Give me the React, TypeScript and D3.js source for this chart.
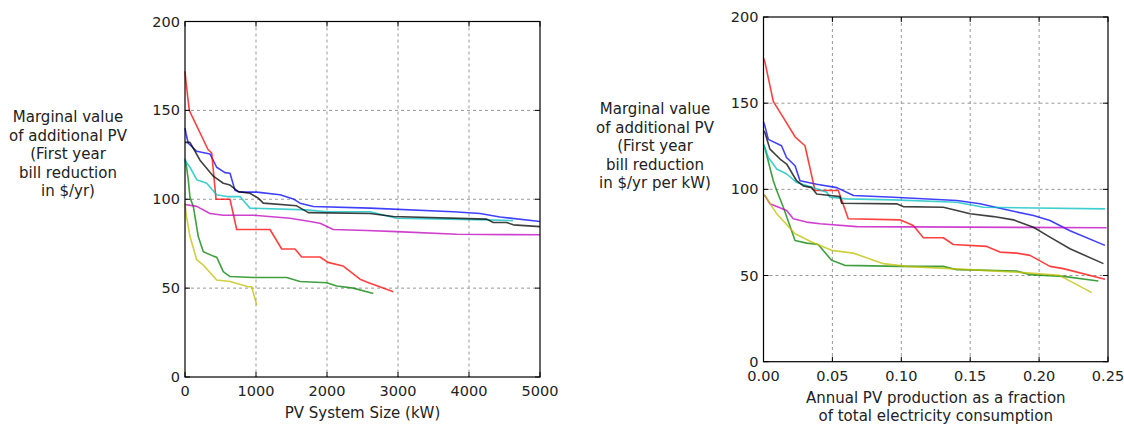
import React from "react";
import * as d3 from "d3";

type Pt = [number, number];

// ---------- Left chart data: PV system size (kW) vs marginal value ($/yr) ----------
const leftRed: Pt[] = [[0, 172], [14, 166], [60, 150], [324, 128], [376, 126], [437, 100], [634, 100], [728, 83], [1197, 83], [1362, 72], [1549, 72], [1644, 67.5], [1901, 67.5], [2014, 64.5], [2225, 62.5], [2465, 55], [2559, 53.5], [2934, 48]];
const leftBlue: Pt[] = [[0, 140], [14, 137], [46, 131.5], [165, 127], [352, 125.5], [446, 118], [563, 115], [634, 114.6], [704, 105], [775, 104], [1010, 104], [1338, 102.5], [1525, 100.2], [1620, 97.8], [1807, 95.9], [2606, 95], [3779, 93], [4155, 92], [4437, 90], [5000, 87.5]];
const leftBlack: Pt[] = [[0, 132], [70, 132], [141, 127], [211, 122], [399, 113], [539, 109], [634, 108], [751, 104.3], [915, 103.4], [1032, 100.6], [1103, 97.8], [1573, 96.3], [1737, 92.5], [2606, 92], [2934, 90.3], [4249, 88.8], [4342, 86.9], [4531, 86.9], [4624, 85.6], [5000, 84.6]];
const leftCyan: Pt[] = [[0, 123], [14, 121], [70, 118], [165, 111], [306, 109], [446, 102.5], [587, 101.5], [775, 101.5], [915, 95], [1714, 94], [1996, 93], [2606, 93], [2982, 89.3], [4249, 88.4], [4620, 88]];
const leftMagenta: Pt[] = [[0, 97], [165, 96], [352, 92], [540, 91], [962, 91], [1479, 89.3], [1761, 87.5], [1901, 86.5], [2089, 83], [2559, 82.4], [2982, 81.8], [3827, 80.3], [5000, 80]];
const leftGreen: Pt[] = [[0, 122], [14, 120.5], [46, 111], [70, 101], [117, 96], [187, 79], [258, 70.5], [399, 68], [446, 67.4], [539, 59.3], [634, 56.5], [962, 56], [1432, 56], [1620, 53.7], [1996, 53], [2137, 51.2], [2370, 50], [2652, 47]];
const leftYellow: Pt[] = [[0, 98], [14, 92], [70, 79], [165, 66], [258, 63], [446, 54.6], [634, 53.7], [892, 50.8], [939, 50.8], [1010, 40.5]];

// ---------- Right chart data: PV fraction of consumption vs marginal value ($/yr per kW) ----------
const rightRed: Pt[] = [[0, 176], [0.001, 174], [0.0071, 151], [0.0144, 141.6], [0.0229, 130.5], [0.0301, 125.3], [0.0374, 99.3], [0.0543, 99.3], [0.0615, 82.9], [0.099, 82.3], [0.1087, 79], [0.116, 71.9], [0.1305, 71.9], [0.1377, 68], [0.162, 66.9], [0.1716, 63.6], [0.1837, 63], [0.1934, 61.7], [0.2079, 55.3], [0.2176, 54], [0.2478, 47.8]];
const rightBlue: Pt[] = [[0, 139], [0.001, 136.8], [0.0035, 129], [0.0131, 125.3], [0.0167, 118.5], [0.0229, 113.7], [0.0265, 105], [0.0386, 103], [0.0532, 101], [0.0653, 96.4], [0.0943, 95.4], [0.1403, 93.5], [0.1571, 91.6], [0.1789, 87.7], [0.1959, 84.8], [0.2079, 81.9], [0.2224, 76], [0.2478, 67.5]];
const rightBlack: Pt[] = [[0, 134], [0.001, 133], [0.0047, 123.3], [0.012, 117.6], [0.0168, 114.7], [0.024, 105], [0.0289, 102], [0.0349, 101], [0.0386, 97.3], [0.0483, 96.4], [0.0555, 95.8], [0.0567, 91.9], [0.0966, 91.6], [0.1014, 90], [0.1305, 89.6], [0.1403, 87.7], [0.15, 85.8], [0.1669, 84.2], [0.1814, 82.3], [0.1959, 78], [0.2079, 72.3], [0.2224, 65.5], [0.2467, 56.9]];
const rightCyan: Pt[] = [[0, 126], [0.001, 124.3], [0.0035, 118.5], [0.0096, 111.8], [0.0168, 108.9], [0.024, 104], [0.0325, 102], [0.0459, 98.3], [0.0483, 95.4], [0.0603, 94.5], [0.0943, 93.9], [0.1403, 92.5], [0.1596, 89.6], [0.2478, 88.7]];
const rightMagenta: Pt[] = [[0, 97], [0.001, 96.4], [0.0047, 91.6], [0.0168, 87.7], [0.0216, 82.9], [0.0313, 81], [0.041, 80], [0.0676, 78.4], [0.249, 77.7]];
const rightGreen: Pt[] = [[0, 126], [0.001, 124], [0.0071, 105], [0.0096, 99.3], [0.0144, 89.6], [0.0229, 70.3], [0.0313, 68.8], [0.0397, 68], [0.0494, 58.8], [0.059, 55.9], [0.099, 55.3], [0.1305, 55.3], [0.1402, 53.4], [0.1837, 52.6], [0.1934, 50.5], [0.2176, 49.5], [0.243, 46.8]];
const rightYellow: Pt[] = [[0, 97], [0.001, 96.4], [0.0096, 85.8], [0.0229, 74.2], [0.035, 69.4], [0.0494, 64.6], [0.0652, 63], [0.087, 56.9], [0.1039, 55.3], [0.1354, 54], [0.1837, 52], [0.2147, 50.1], [0.2382, 40.1]];

const leftXTicks = [0, 1000, 2000, 3000, 4000, 5000];
const rightXTicks = [0, 0.05, 0.1, 0.15, 0.2, 0.25];
const yTicks = [0, 50, 100, 150, 200];

const leftYLabel = ["Marginal value", "of additional PV", "(First year", "bill reduction", "in $/yr)"];
const rightYLabel = ["Marginal value", "of additional PV", "(First year", "bill reduction", "in $/yr per kW)"];
const leftXLabel = ["PV System Size (kW)"];
const rightXLabel = ["Annual PV production as a fraction", "of total electricity consumption"];

const COLORS = { b: "#0000ff", g: "#008000", r: "#ff0000", c: "#00bfbf", m: "#bf00bf", y: "#bfbf00", k: "#000000" };

const leftSeries: [Pt[], string][] = [
  [leftBlue, COLORS.b], [leftGreen, COLORS.g], [leftRed, COLORS.r], [leftCyan, COLORS.c],
  [leftMagenta, COLORS.m], [leftYellow, COLORS.y], [leftBlack, COLORS.k],
];
const rightSeries: [Pt[], string][] = [
  [rightBlue, COLORS.b], [rightGreen, COLORS.g], [rightRed, COLORS.r], [rightCyan, COLORS.c],
  [rightMagenta, COLORS.m], [rightYellow, COLORS.y], [rightBlack, COLORS.k],
];

const FONT = "'DejaVu Sans', sans-serif";
const TEXT = "#222";

interface PanelProps {
  x0: number; x1: number; y0: number; y1: number;
  xDomain: [number, number];
  xTicks: number[];
  xFmt: (v: number) => string;
  series: [Pt[], string][];
  yLabel: string[]; yLabelX: number; yLabelY: number;
  xLabel: string[]; xLabelY: number;
}

function Panel(p: PanelProps) {
  const x = d3.scaleLinear().domain(p.xDomain).range([p.x0, p.x1]);
  const y = d3.scaleLinear().domain([0, 200]).range([p.y1, p.y0]);
  const line = d3.line<Pt>().x((d) => x(d[0])).y((d) => y(d[1]));
  const tl = 5;
  return (
    <g>
      {/* grid */}
      {p.xTicks.slice(1, -1).map((t) => (
        <line key={"gx" + t} x1={x(t)} x2={x(t)} y1={p.y0} y2={p.y1} stroke="#999" strokeWidth={1} strokeDasharray="3,3" />
      ))}
      {yTicks.slice(1, -1).map((t) => (
        <line key={"gy" + t} x1={p.x0} x2={p.x1} y1={y(t)} y2={y(t)} stroke="#999" strokeWidth={1} strokeDasharray="3,3" />
      ))}
      {/* data */}
      {p.series.map(([d, c], i) => (
        <path key={i} d={line(d) || ""} fill="none" stroke={c} strokeOpacity={0.75} strokeWidth={1.6} strokeLinejoin="round" />
      ))}
      {/* ticks */}
      {p.xTicks.map((t) => (
        <g key={"tx" + t}>
          <line x1={x(t)} x2={x(t)} y1={p.y1} y2={p.y1 - tl} stroke="#000" />
          <line x1={x(t)} x2={x(t)} y1={p.y0} y2={p.y0 + tl} stroke="#000" />
          <text x={x(t)} y={p.y1 + 14} textAnchor="middle" dominantBaseline="central" fontFamily={FONT} fontSize={14.5} fill={TEXT}>{p.xFmt(t)}</text>
        </g>
      ))}
      {yTicks.map((t) => (
        <g key={"ty" + t}>
          <line x1={p.x0} x2={p.x0 + tl} y1={y(t)} y2={y(t)} stroke="#000" />
          <line x1={p.x1} x2={p.x1 - tl} y1={y(t)} y2={y(t)} stroke="#000" />
          <text x={p.x0 - 5} y={y(t)} textAnchor="end" dominantBaseline="central" fontFamily={FONT} fontSize={14.5} fill={TEXT}>{t}</text>
        </g>
      ))}
      <rect x={p.x0} y={p.y0} width={p.x1 - p.x0} height={p.y1 - p.y0} fill="none" stroke="#000" strokeWidth={1.2} />
      {p.yLabel.map((s, i) => (
        <text key={"yl" + i} x={p.yLabelX} y={p.yLabelY + i * 18.5} textAnchor="middle" dominantBaseline="central" fontFamily={FONT} fontSize={15} fill={TEXT}>{s}</text>
      ))}
      {p.xLabel.map((s, i) => (
        <text key={"xl" + i} x={(p.x0 + p.x1) / 2} y={p.xLabelY + i * 18} textAnchor="middle" dominantBaseline="central" fontFamily={FONT} fontSize={15} fill={TEXT}>{s}</text>
      ))}
    </g>
  );
}

export default function App() {
  return (
    <svg width={1124} height={425} style={{ position: "absolute", left: 0, top: 0, background: "#fff" }}>
      <Panel
        x0={185} x1={540} y0={21.5} y1={377}
        xDomain={[0, 5000]} xTicks={leftXTicks} xFmt={(v) => String(v)}
        series={leftSeries}
        yLabel={leftYLabel} yLabelX={68} yLabelY={117}
        xLabel={leftXLabel} xLabelY={413}
      />
      <Panel
        x0={763.5} x1={1108} y0={17} y1={361.7}
        xDomain={[0, 0.25]} xTicks={rightXTicks} xFmt={(v) => v.toFixed(2)}
        series={rightSeries}
        yLabel={rightYLabel} yLabelX={655} yLabelY={109}
        xLabel={rightXLabel} xLabelY={398}
      />
    </svg>
  );
}
